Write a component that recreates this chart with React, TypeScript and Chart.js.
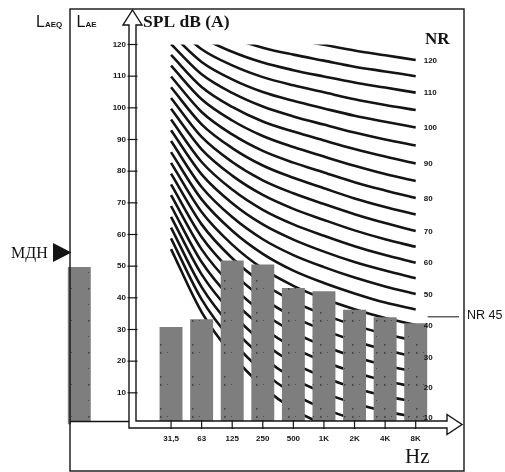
import { useEffect, useRef } from 'react';
import { Chart, registerables } from 'chart.js';

Chart.register(...registerables);

// ---- data ----
const categories = ['LAE', '', ' ', '31,5', '63', '125', '250', '500', '1K', '2K', '4K', '8K'];
const leadingSlots = 3;
const frequencyLabels = ['31,5', '63', '125', '250', '500', '1K', '2K', '4K', '8K'];
const spectrumLevels = [30.8, 33.2, 51.8, 50.5, 43.1, 42.1, 36.2, 33.9, 32.0];
const laeLevel = 49.7;
const mdhLevel = 54.3;
const nrMarkerLevel = 34;
const nrMarkerText = 'NR 45';
const yTicks = [10, 20, 30, 40, 50, 60, 70, 80, 90, 100, 110, 120];
const nrNumbers = [0, 5, 10, 15, 20, 25, 30, 35, 40, 45, 50, 55, 60, 65, 70, 75, 80, 85, 90, 95, 100, 105, 110, 115, 120];
const nrLabelled = [120, 110, 100, 90, 80, 70, 60, 50, 40, 30, 20, 10];
// NR curve levels at 31.5 ... 8K (dB)
const nrCurves: number[][] = [
  [55.4, 35.5, 22.0, 12.0, 4.8, 0, -3.5, -6.1, -8.0],
  [58.8, 39.5, 26.4, 16.7, 9.7, 5, 1.6, -1.0, -2.9],
  [62.2, 43.4, 30.7, 21.3, 14.5, 10, 6.7, 4.2, 2.3],
  [65.6, 47.4, 35.1, 26.0, 19.4, 15, 11.5, 9.0, 7.1],
  [69.0, 51.3, 39.4, 30.6, 24.3, 19.9, 16.5, 13.8, 11.8],
  [72.4, 55.3, 43.8, 35.3, 29.2, 24.8, 21.4, 18.7, 16.6],
  [75.8, 59.2, 48.1, 39.9, 34.0, 29.8, 26.4, 23.6, 21.3],
  [79.2, 63.2, 52.5, 44.6, 38.9, 34.7, 31.3, 28.6, 26.4],
  [82.6, 67.1, 56.8, 49.2, 43.8, 39.7, 36.4, 33.6, 31.4],
  [86.0, 71.1, 61.2, 53.9, 48.6, 44.7, 41.4, 38.5, 36.3],
  [89.5, 75.0, 65.5, 58.5, 53.5, 49.7, 46.4, 43.6, 41.2],
  [92.9, 79.0, 69.9, 63.2, 58.4, 54.6, 51.3, 48.6, 46.2],
  [96.3, 82.9, 74.2, 67.8, 63.2, 59.6, 56.3, 53.5, 51.1],
  [99.7, 86.9, 78.6, 72.5, 68.1, 64.6, 61.3, 58.5, 56.1],
  [103.1, 90.8, 82.9, 77.1, 73.0, 69.6, 66.4, 63.6, 61.1],
  [106.5, 94.8, 87.3, 81.8, 77.9, 74.6, 71.4, 68.7, 66.3],
  [109.9, 98.7, 91.6, 86.4, 82.7, 79.6, 76.5, 73.9, 71.5],
  [113.3, 102.7, 96.0, 91.1, 87.6, 84.6, 81.7, 79.1, 76.9],
  [116.7, 106.6, 100.3, 95.7, 92.5, 89.7, 87.0, 84.6, 82.4],
  [120.1, 110.6, 104.7, 100.4, 97.3, 94.7, 92.2, 90.0, 88.1],
  [123.5, 114.5, 109.0, 105.0, 102.2, 99.8, 97.5, 95.6, 93.8],
  [126.9, 118.5, 113.4, 109.7, 107.1, 104.9, 102.7, 100.9, 99.3],
  [130.3, 122.4, 117.7, 114.3, 111.9, 109.9, 108.0, 106.4, 104.8],
  [133.7, 126.4, 122.1, 119.0, 116.8, 114.9, 113.0, 111.5, 110.0],
  [137.1, 130.3, 126.4, 123.6, 121.7, 119.9, 118.1, 116.6, 115.1],
];

const SERIF = '"Liberation Serif", "Times New Roman", serif';
const SANS = '"Liberation Sans", Arial, sans-serif';
const INK = '#141414';

function makeTexture(): CanvasPattern | string {
  const c = document.createElement('canvas');
  c.width = 32;
  c.height = 32;
  const g = c.getContext('2d');
  if (!g) return '#888';
  g.fillStyle = '#7e7e7e';
  g.fillRect(0, 0, 32, 32);
  const shades = ['#4a4a4a', '#5c5c5c', '#686868', '#9c9c9c', '#acacac', '#bcbcbc', '#737373', '#939393'];
  let s = 987654;
  for (let i = 0; i < 700; i++) {
    s = (s * 1103515245 + 12345) & 0x7fffffff;
    const x = s % 32;
    s = (s * 1103515245 + 12345) & 0x7fffffff;
    const y = s % 32;
    s = (s * 1103515245 + 12345) & 0x7fffffff;
    g.fillStyle = shades[s % shades.length];
    g.fillRect(x, y, 1 + (s % 2), 1 + ((s >> 3) % 2));
  }
  return g.createPattern(c, 'repeat') || '#888';
}

const decorPlugin = {
  id: 'decor',
  beforeDraw(chart: any) {
    const ctx = chart.ctx as CanvasRenderingContext2D;
    ctx.save();
    ctx.fillStyle = '#fff';
    ctx.fillRect(0, 0, chart.width, chart.height);
    ctx.restore();
  },
  afterDatasetsDraw(chart: any) {
    const ctx = chart.ctx as CanvasRenderingContext2D;
    const xs = chart.scales.x;
    const ys = chart.scales.y;
    const ca = chart.chartArea;
    const y0 = ys.getPixelForValue(0);
    const ax = ca.left + 68.5; // y-axis arrow centre
    const half = 3.5;
    const xTip = 462;
    const xHeadBase = 447;
    const yTip = 10;
    const yHeadBase = 25;

    ctx.save();
    // frame
    ctx.strokeStyle = INK;
    ctx.lineWidth = 1.4;
    const frameL = 70, frameR = 464, frameT = 9, frameB = 471;
    ctx.strokeRect(frameL, frameT, frameR - frameL, frameB - frameT);
    // panel floor under the LAE column
    ctx.fillStyle = '#fff';
    ctx.fillRect(frameL + 1, y0 - half, ax - frameL, 8);
    ctx.beginPath();
    ctx.moveTo(frameL, y0 - half + 0.5);
    ctx.lineTo(ax - half, y0 - half + 0.5);
    ctx.stroke();

    // hollow axes (L-shaped arrow pair)
    ctx.beginPath();
    ctx.moveTo(ax - half, y0 + half);
    ctx.lineTo(ax - half, yHeadBase);
    ctx.lineTo(ax - 9.5, yHeadBase);
    ctx.lineTo(ax, yTip);
    ctx.lineTo(ax + 9.5, yHeadBase);
    ctx.lineTo(ax + half, yHeadBase);
    ctx.lineTo(ax + half, y0 - half);
    ctx.lineTo(xHeadBase, y0 - half);
    ctx.lineTo(xHeadBase, y0 - 10);
    ctx.lineTo(xTip, y0);
    ctx.lineTo(xHeadBase, y0 + 10);
    ctx.lineTo(xHeadBase, y0 + half);
    ctx.closePath();
    ctx.fillStyle = '#fff';
    ctx.fill();
    ctx.lineWidth = 1.4;
    ctx.stroke();

    // y ticks + labels
    ctx.lineWidth = 1.2;
    ctx.fillStyle = INK;
    ctx.font = `bold 8px ${SANS}`;
    ctx.textAlign = 'right';
    ctx.textBaseline = 'middle';
    yTicks.forEach((t) => {
      const py = ys.getPixelForValue(t);
      ctx.beginPath();
      ctx.moveTo(ax - half - 1.5, py);
      ctx.lineTo(ax + half + 1.5, py);
      ctx.stroke();
      ctx.fillText(String(t), ax - half - 3, py);
    });

    // x ticks + labels
    ctx.textAlign = 'center';
    frequencyLabels.forEach((lab, i) => {
      const px = xs.getPixelForValue(i + leadingSlots);
      ctx.beginPath();
      ctx.moveTo(px, y0 - half - 1);
      ctx.lineTo(px, y0 + half + 1);
      ctx.stroke();
      ctx.fillText(lab, px, y0 + 14.5);
    });

    // NR curve labels at 8K end
    const lastIdx = categories.length - 1;
    ctx.textAlign = 'left';
    ctx.font = `bold 8px ${SANS}`;
    nrLabelled.forEach((nr) => {
      const row = nrCurves[nrNumbers.indexOf(nr)];
      const v = row[row.length - 1];
      const px = xs.getPixelForValue(lastIdx) + 8;
      const py = ys.getPixelForValue(v);
      ctx.fillText(String(nr), px, py + 0.5);
    });

    // NR rating marker
    const my = ys.getPixelForValue(nrMarkerLevel);
    ctx.lineWidth = 1;
    ctx.beginPath();
    ctx.moveTo(xs.getPixelForValue(lastIdx) + 12, my);
    ctx.lineTo(frameR - 5, my);
    ctx.stroke();
    ctx.font = `12.5px ${SANS}`;
    ctx.textBaseline = 'middle';
    ctx.fillText(nrMarkerText, frameR + 3, my - 1);

    // MDH marker
    const dy = ys.getPixelForValue(mdhLevel);
    ctx.beginPath();
    ctx.moveTo(frameL - 17, dy - 9.5);
    ctx.lineTo(frameL + 1.5, dy);
    ctx.lineTo(frameL - 17, dy + 9.5);
    ctx.closePath();
    ctx.fill();
    ctx.font = `16px ${SERIF}`;
    ctx.textAlign = 'left';
    ctx.textBaseline = 'alphabetic';
    ctx.fillText('МДН', 11, dy + 5.5);

    // L_AEQ / L_AE
    ctx.font = `16px ${SANS}`;
    ctx.fillText('L', 36, 27);
    ctx.fillText('L', 76.5, 27);
    ctx.font = `bold 8px ${SANS}`;
    ctx.fillText('AEQ', 45, 27);
    ctx.fillText('AE', 85.5, 27);

    // titles
    ctx.font = `bold 17.5px ${SERIF}`;
    ctx.fillText('SPL dB (A)', ax + 10.5, 27);
    ctx.font = `bold 17px ${SERIF}`;
    ctx.fillText('NR', 425, 44);
    ctx.font = `21px ${SERIF}`;
    ctx.fillText('Hz', 405, 463);
    ctx.restore();
  },
};

export default function App() {
  const ref = useRef<HTMLCanvasElement | null>(null);
  useEffect(() => {
    if (!ref.current) return;
    const texture = makeTexture();
    const lead = new Array(leadingSlots).fill(null);
    const lineSets = nrCurves.map((row, k) => ({
      type: 'line' as const,
      label: `NR ${nrNumbers[k]}`,
      data: [...lead, ...row],
      borderColor: INK,
      borderWidth: 2.6,
      pointRadius: 0,
      fill: false,
      cubicInterpolationMode: 'monotone' as const,
      clip: 0,
      order: 2,
    }));
    const chart = new Chart(ref.current, {
      type: 'bar',
      data: {
        labels: categories,
        datasets: [
          {
            type: 'bar',
            label: 'LAE',
            data: [laeLevel, ...new Array(categories.length - 1).fill(null)],
            backgroundColor: texture as any,
            borderWidth: 0,
            grouped: false,
            barPercentage: 0.75,
            categoryPercentage: 1,
            order: 0,
          },
          {
            type: 'bar',
            label: 'Spectrum',
            data: [...lead, ...spectrumLevels],
            backgroundColor: texture as any,
            borderWidth: 0,
            grouped: false,
            barPercentage: 0.75,
            categoryPercentage: 1,
            order: 0,
          },
          ...lineSets,
        ] as any,
      },
      options: {
        responsive: false,
        animation: false,
        layout: { padding: { left: 64, right: 74, top: 44.5, bottom: 47.5 } },
        scales: {
          x: { display: false, offset: true },
          y: { display: false, min: 0, max: 120 },
        },
        plugins: { legend: { display: false }, tooltip: { enabled: false } },
        events: [],
      },
      plugins: [decorPlugin],
    });
    return () => chart.destroy();
  }, []);
  return (
    <div style={{ position: 'fixed', left: 0, top: 0, width: 505, height: 472, background: '#fff' }}>
      <canvas ref={ref} width={505} height={472} />
    </div>
  );
}
